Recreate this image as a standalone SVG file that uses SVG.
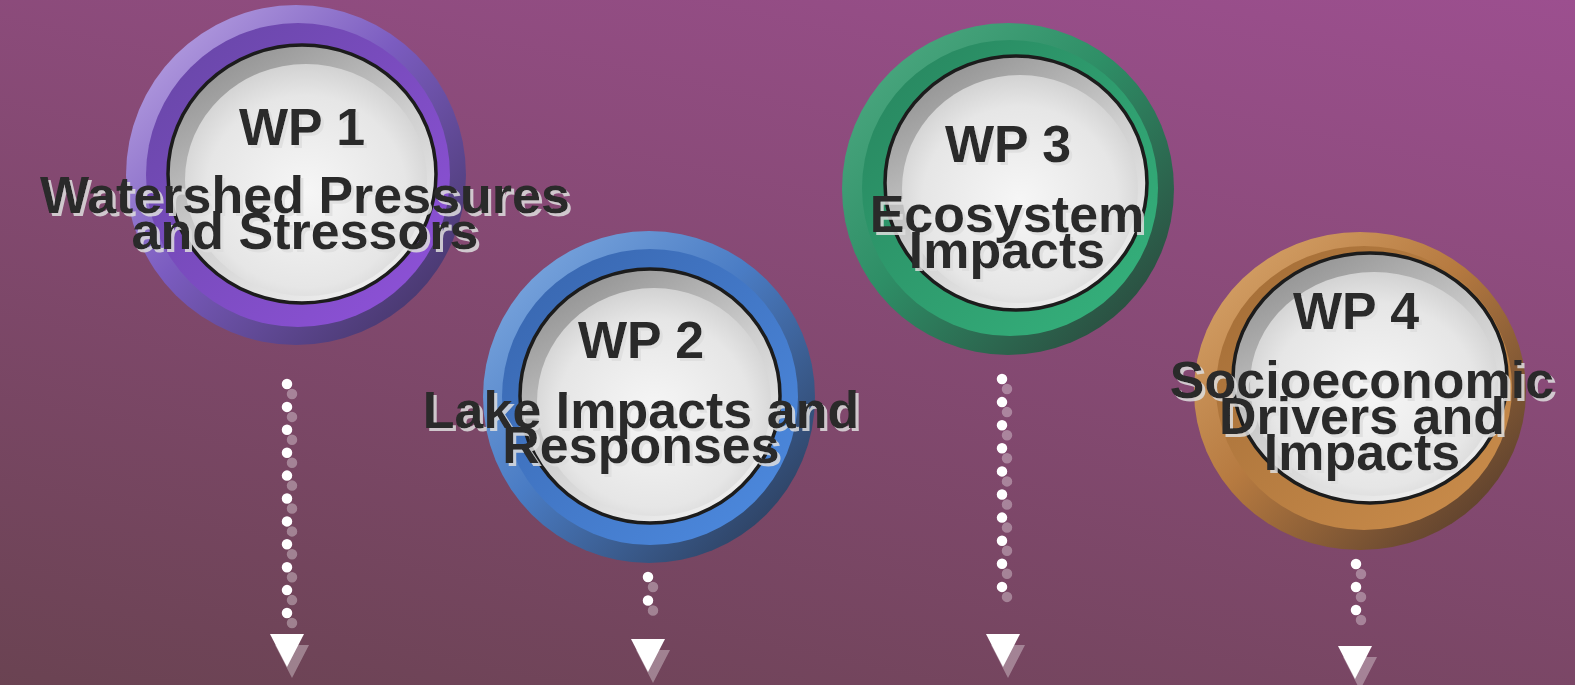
<svg xmlns="http://www.w3.org/2000/svg" width="1575" height="685" viewBox="0 0 1575 685">
<defs>
<linearGradient id="bg" gradientUnits="userSpaceOnUse" x1="1575" y1="0" x2="1352" y2="1040">
<stop offset="0" stop-color="#9c4f8f"/><stop offset="1" stop-color="#67424e"/>
</linearGradient>
<linearGradient id="o1" x1="0" y1="0" x2="1" y2="1"><stop offset="0" stop-color="#c2aee8"/><stop offset="0.45" stop-color="#7b5cc0"/><stop offset="1" stop-color="#3a2e58"/></linearGradient>
<linearGradient id="b1" x1="0" y1="0" x2="1" y2="1"><stop offset="0" stop-color="#6546a4"/><stop offset="1" stop-color="#9152dc"/></linearGradient>
<linearGradient id="o2" x1="0" y1="0" x2="1" y2="1"><stop offset="0" stop-color="#86b0e4"/><stop offset="0.45" stop-color="#4a7cc4"/><stop offset="1" stop-color="#263248"/></linearGradient>
<linearGradient id="b2" x1="0" y1="0" x2="1" y2="1"><stop offset="0" stop-color="#3764ac"/><stop offset="1" stop-color="#4e8ce2"/></linearGradient>
<linearGradient id="o3" x1="0" y1="0" x2="1" y2="1"><stop offset="0" stop-color="#52ae86"/><stop offset="0.45" stop-color="#2e8e66"/><stop offset="1" stop-color="#2a3c36"/></linearGradient>
<linearGradient id="b3" x1="0" y1="0" x2="1" y2="1"><stop offset="0" stop-color="#27845e"/><stop offset="1" stop-color="#36b47e"/></linearGradient>
<linearGradient id="o4" x1="0" y1="0" x2="1" y2="1"><stop offset="0" stop-color="#dcaa70"/><stop offset="0.45" stop-color="#b67a40"/><stop offset="1" stop-color="#463228"/></linearGradient>
<linearGradient id="b4" x1="0" y1="0" x2="1" y2="1"><stop offset="0" stop-color="#a26c36"/><stop offset="1" stop-color="#cc8e4c"/></linearGradient>
<linearGradient id="bezel" x1="0.2" y1="0" x2="0.8" y2="1"><stop offset="0" stop-color="#8e8e8e"/><stop offset="0.5" stop-color="#cfcfcf"/><stop offset="1" stop-color="#f2f2f2"/></linearGradient>
<radialGradient id="face" cx="0.5" cy="0.55" r="0.55"><stop offset="0" stop-color="#f6f6f6"/><stop offset="0.75" stop-color="#e6e6e6"/><stop offset="1" stop-color="#d2d2d2"/></radialGradient>
<filter id="ts" x="-10%" y="-20%" width="120%" height="150%">
<feDropShadow dx="3" dy="3" stdDeviation="0.6" flood-color="#dedede" flood-opacity="0.85"/>
</filter>
<polygon id="head" points="-17,0 17,0 0,33"/>
</defs>
<style>
.lbl{font-family:"Liberation Sans",Arial,sans-serif;font-weight:bold;font-size:52px;fill:#2a2a2a;text-anchor:middle;filter:url(#ts)}
.ring{stroke:#1c1c1c;stroke-width:3.5;fill:url(#bezel)}
.face{fill:url(#face)}
.dots{stroke:#ffffff;stroke-width:10.5;stroke-linecap:round;fill:none}
.sh{opacity:0.33}
.hd{fill:#ffffff}
</style>
<rect width="1575" height="685" fill="url(#bg)"/>

<g id="connectors">
<g class="sh" transform="translate(5,10)">
<line class="dots" x1="287" y1="384" x2="287" y2="613" stroke-dasharray="0 22.9"/>
<line class="dots" x1="648" y1="577" x2="648" y2="624" stroke-dasharray="0 23.5"/>
<line class="dots" x1="1002" y1="379" x2="1002" y2="610" stroke-dasharray="0 23.1"/>
<line class="dots" x1="1356" y1="564" x2="1356" y2="633" stroke-dasharray="0 23"/>
<use href="#head" class="hd" x="287" y="635"/>
<use href="#head" class="hd" x="648" y="640"/>
<use href="#head" class="hd" x="1003" y="635"/>
<use href="#head" class="hd" x="1355" y="647"/>
</g>
<line class="dots" x1="287" y1="384" x2="287" y2="613" stroke-dasharray="0 22.9"/>
<line class="dots" x1="648" y1="577" x2="648" y2="624" stroke-dasharray="0 23.5"/>
<line class="dots" x1="1002" y1="379" x2="1002" y2="610" stroke-dasharray="0 23.1"/>
<line class="dots" x1="1356" y1="564" x2="1356" y2="633" stroke-dasharray="0 23"/>
<use href="#head" class="hd" x="287" y="634"/>
<use href="#head" class="hd" x="648" y="639"/>
<use href="#head" class="hd" x="1003" y="634"/>
<use href="#head" class="hd" x="1355" y="646"/>
</g>

<g id="wp1">
<circle cx="296" cy="175" r="170" fill="url(#o1)"/>
<circle cx="298" cy="175" r="152" fill="url(#b1)"/>
<ellipse class="ring" cx="302" cy="174" rx="134" ry="129"/>
<ellipse class="face" cx="306" cy="180" rx="121" ry="116"/>
<text class="lbl" x="302" y="145">WP 1</text>
<text class="lbl" x="305" y="213">Watershed Pressures</text>
<text class="lbl" x="305" y="249">and Stressors</text>
</g>

<g id="wp2">
<circle cx="649" cy="397" r="166" fill="url(#o2)"/>
<circle cx="650" cy="397" r="148" fill="url(#b2)"/>
<ellipse class="ring" cx="650" cy="396" rx="130" ry="127"/>
<ellipse class="face" cx="654" cy="402" rx="117" ry="114"/>
<text class="lbl" x="641" y="358">WP 2</text>
<text class="lbl" x="641" y="428">Lake Impacts and</text>
<text class="lbl" x="641" y="463">Responses</text>
</g>

<g id="wp3">
<circle cx="1008" cy="189" r="166" fill="url(#o3)"/>
<circle cx="1010" cy="188" r="148" fill="url(#b3)"/>
<ellipse class="ring" cx="1016" cy="183" rx="131" ry="127"/>
<ellipse class="face" cx="1020" cy="189" rx="118" ry="114"/>
<text class="lbl" x="1008" y="162">WP 3</text>
<text class="lbl" x="1007" y="232">Ecosystem</text>
<text class="lbl" x="1007" y="268">Impacts</text>
</g>

<g id="wp4">
<ellipse cx="1360" cy="391" rx="166" ry="159" fill="url(#o4)"/>
<ellipse cx="1364" cy="388" rx="148" ry="142" fill="url(#b4)"/>
<ellipse class="ring" cx="1370" cy="378" rx="137" ry="125"/>
<ellipse class="face" cx="1374" cy="384" rx="124" ry="112"/>
<text class="lbl" x="1356" y="329">WP 4</text>
<text class="lbl" x="1362" y="398">Socioeconomic</text>
<text class="lbl" x="1362" y="434">Drivers and</text>
<text class="lbl" x="1362" y="470">Impacts</text>
</g>
</svg>
